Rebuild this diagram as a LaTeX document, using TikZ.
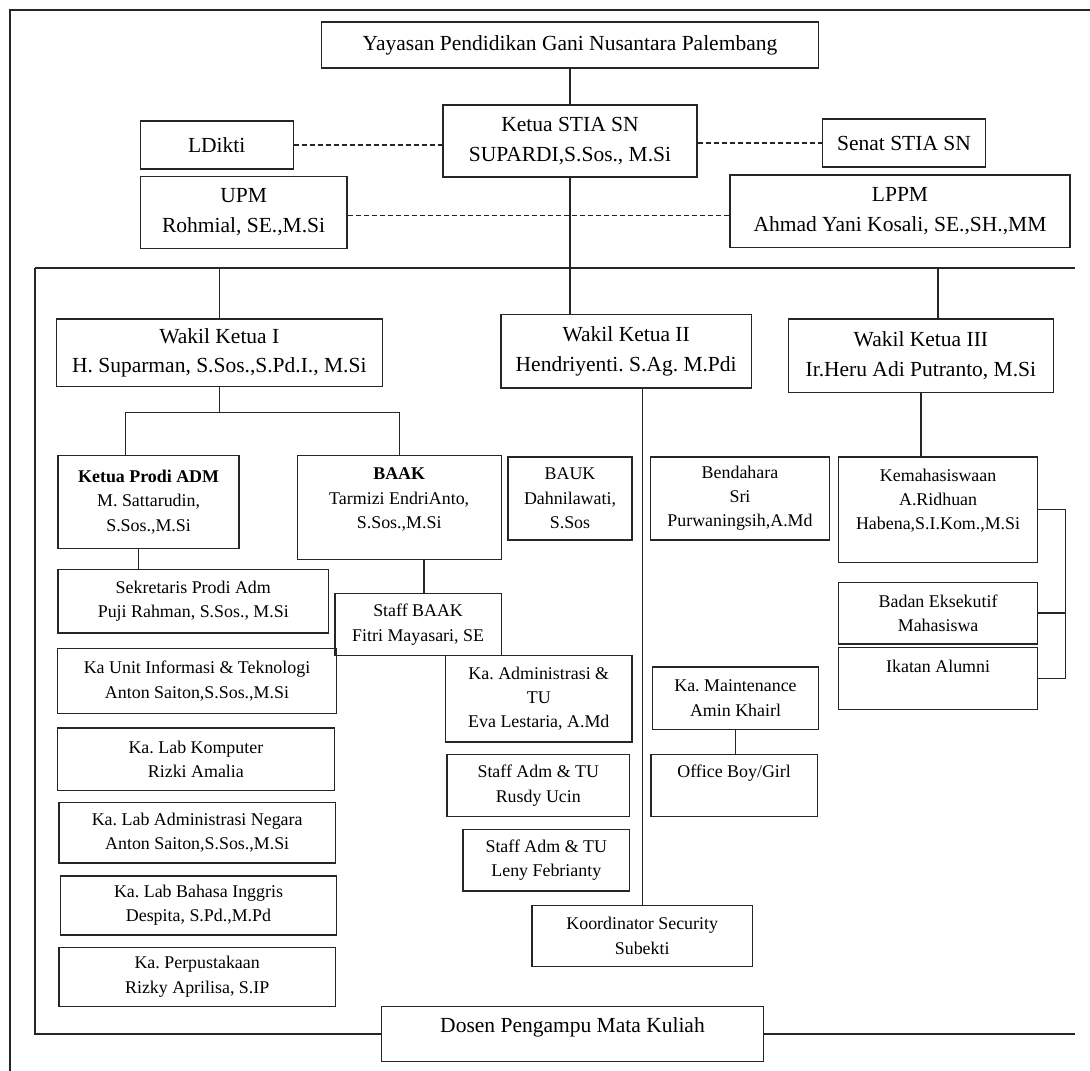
\documentclass[tikz,border=0pt]{standalone}
\usepackage{fontspec}
\setmainfont{Liberation Serif}
\usepackage{xcolor}
\usepackage{tikz}
\frenchspacing

\newcommand{\bigtxt}{\fontsize{21.5}{29.9}\selectfont}
\newcommand{\smalltxt}{\fontsize{17.9}{24.3}\selectfont}

\tikzset{
	box/.style={draw=black!85, line width=1.4pt, inner sep=0pt, align=center},
	sz/.style 2 args={minimum width=#1pt, minimum height=#2pt},
	big/.style={box, font=\bigtxt},
	small/.style={box, font=\smalltxt},
	conn/.style={draw=black!85, line width=1.4pt},
	dash line/.style={conn, line width=1.2pt, dash pattern=on 5pt off 3pt},
	frame/.style={draw=black!85, line width=1.8pt}
}

\begin{document}
\begin{tikzpicture}[x=1pt,y=-1pt]
	\useasboundingbox (0,0) rectangle (1090,1071);
	\draw[frame] (10,1071) -- (10,10) -- (1090,10);

	\node[big,sz={497}{46}] (yayasan) at (570,45) {Yayasan Pendidikan Gani Nusantara Palembang};
	\node[big,sz={254}{72}] (ketua) at (570,141) {Ketua STIA SN\\SUPARDI,S.Sos., M.Si};
	\node[big,sz={153}{48}] (ldikti) at (216.7,145) {LDikti};
	\node[big,sz={163}{48}] (senat) at (904,143) {Senat STIA SN};
	\node[big,sz={206.5}{72}] (upm) at (243.6,212.5) {UPM\\Rohmial, SE.,M.Si};
	\node[big,sz={340}{72.7}] (lppm) at (900,211.2) {LPPM\\Ahmad Yani Kosali, SE.,SH.,MM};

	\node[big,sz={326}{67.5}] (wk1) at (219.3,352.8) {Wakil Ketua I\\H. Suparman, S.Sos.,S.Pd.I., M.Si};
	\node[big,sz={250.6}{73.4}] (wk2) at (626.2,351.3) {Wakil Ketua II\\Hendriyenti. S.Ag. M.Pdi};
	\node[big,sz={265}{73.4}] (wk3) at (920.9,355.7) {Wakil Ketua III\\Ir.Heru Adi Putranto, M.Si};

	\node[small,sz={181}{93}] (prodi) at (148.6,502.1) {\textbf{Ketua Prodi ADM}\\M. Sattarudin,\\S.Sos.,M.Si};
	\node[small,sz={204}{104},text depth=19pt] (baak) at (399.2,507.7) {\textbf{BAAK}\\Tarmizi EndriAnto,\\S.Sos.,M.Si};
	\node[small,sz={123.7}{82.8}] (bauk) at (570,498.4) {BAUK\\Dahnilawati,\\S.Sos};
	\node[small,sz={178.6}{82.8}] (bendahara) at (740,498.4) {Bendahara\\Sri\\Purwaningsih,A.Md};
	\node[small,sz={198.8}{105.4},text depth=21pt] (kema) at (938.1,509.7) {Kemahasiswaan\\A.Ridhuan\\Habena,S.I.Kom.,M.Si};
	\node[small,sz={198.8}{61.8}] (bem) at (938.1,613.1) {Badan Eksekutif\\Mahasiswa};
	\node[small,sz={198.8}{62},text depth=24pt] (ikatan) at (938.1,678.5) {Ikatan Alumni};

	\node[small,sz={270.5}{63.6}] (sekr) at (193.3,601.2) {Sekretaris Prodi Adm\\Puji Rahman, S.Sos., M.Si};
	\node[small,sz={166.2}{61.8}] (staffbaak) at (418.1,624.6) {Staff BAAK\\Fitri Mayasari, SE};
	\node[small,sz={279}{65}] (unit) at (197,681.2) {Ka Unit Informasi \& Teknologi\\Anton Saiton,S.Sos.,M.Si};
	\node[small,sz={277}{62.2}] (lkomp) at (195.9,759.1) {Ka. Lab Komputer\\Rizki Amalia};
	\node[small,sz={276.4}{60.5}] (lneg) at (197.2,832.6) {Ka. Lab Administrasi Negara\\Anton Saiton,S.Sos.,M.Si};
	\node[small,sz={276}{59}] (lbhs) at (198.5,905.3) {Ka. Lab Bahasa Inggris\\Despita, S.Pd.,M.Pd};
	\node[small,sz={276.4}{59}] (perpus) at (197.2,976.8) {Ka. Perpustakaan\\Rizky Aprilisa, S.IP};

	\node[small,sz={186.3}{86.2}] (kaadm) at (538.8,698.7) {Ka. Administrasi \&\\TU\\Eva Lestaria, A.Md};
	\node[small,sz={182.5}{62}] (staffa) at (538.3,785.7) {Staff Adm \& TU\\Rusdy Ucin};
	\node[small,sz={166.5}{61.6}] (staffb) at (546.3,860.2) {Staff Adm \& TU\\Leny Febrianty};
	\node[small,sz={220.7}{61.5}] (koord) at (642.2,936) {Koordinator Security\\Subekti};
	\node[small,sz={166}{62.3}] (maint) at (735.5,698.2) {Ka. Maintenance\\Amin Khairl};
	\node[small,sz={166.2}{61.5},text depth=28pt] (office) at (734.1,785.5) {Office Boy/Girl};
	\node[big,sz={381.7}{55.3},text depth=17pt] (dosen) at (572.5,1034) {Dosen Pengampu Mata Kuliah};

	\coordinate (busL) at (35,268);
	\coordinate (busR) at (1075,268);

	\draw[conn] (yayasan.south) -- (yayasan.south |- ketua.north);
	\draw[dash line] (ldikti.east) -- (ldikti.east -| ketua.west);
	\draw[dash line] (ketua.east |- senat.west) -- (senat.west);
	\draw[dash line] ([yshift=-3pt]upm.east) -- ([yshift=-3pt]upm.east -| lppm.west);
	\draw[conn] (ketua.south) -- (ketua.south |- wk2.north);
	\draw[conn] (busL) -- (busR);
	\draw[conn] (busL) |- (dosen.west);
	\draw[conn] (dosen.east) -- (dosen.east -| busR);
	\draw[conn] (wk1.north) -- (wk1.north |- busL);
	\draw[conn] (kema.north |- busL) -- (kema.north |- wk3.north);

	\draw[conn] (wk1.south) -- ++(0,25.5) coordinate (t1);
	\draw[conn] ([xshift=-23pt]prodi.north) |- (t1) -| (baak.north);
	\draw[conn] ([xshift=-10pt]prodi.south) -- ([xshift=-10pt]prodi.south |- sekr.north);
	\draw[conn] ([xshift=6pt]staffbaak.north |- baak.south) -- ([xshift=6pt]staffbaak.north);

	\draw[conn] (koord.north) -- (koord.north |- wk2.south);
	\draw[conn] (maint.south) -- (maint.south |- office.north);

	\draw[conn] (wk3.south) -- (wk3.south |- kema.north);
	\draw[conn] (kema.east) -- ++(27,0) coordinate (br) |- (ikatan.east);
	\draw[conn] (bem.east) -- (bem.east -| br);
\end{tikzpicture}
\end{document}
